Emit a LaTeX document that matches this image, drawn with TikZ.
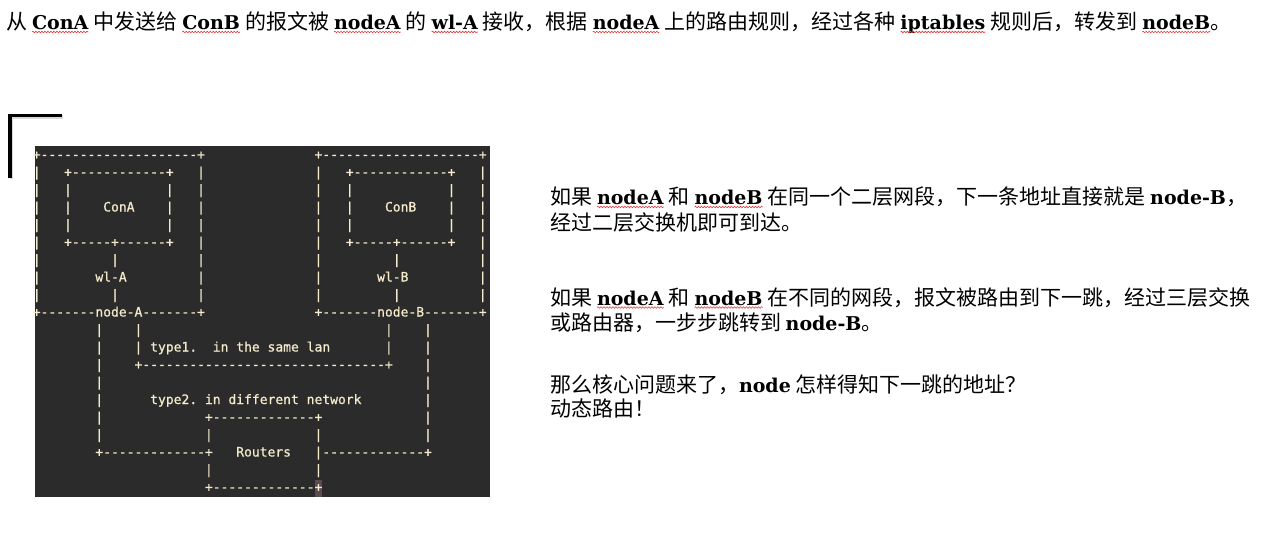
\documentclass[tikz,border=0pt]{standalone}
\usepackage{fontspec}
\setmainfont{Noto Sans CJK SC}
\newfontfamily\lat{DejaVu Serif}
\setmonofont{DejaVu Sans Mono}[FakeBold=0.7]
\usetikzlibrary{decorations.pathmorphing}
\definecolor{termbg}{HTML}{2B2B2B}
\definecolor{termfg}{HTML}{F3EBCB}
\definecolor{cursorbg}{HTML}{5C4B53}
\definecolor{spell}{HTML}{E8383A}
\ExplSyntaxOn
\NewDocumentCommand\dsh{m}{\prg_replicate:nn{#1}{-}}
\ExplSyntaxOff
\newcommand\B[1]{{\lat\bfseries\fontsize{19}{25}\selectfont #1}}
\newcommand\W[1]{\tikz[baseline=(wv.base)]{\node[inner sep=0pt,outer sep=0pt,anchor=base](wv){\B{#1}};\draw[spell,line width=0.6pt,decorate,decoration={snake,amplitude=0.8pt,segment length=3pt}]([yshift=-2.5pt]wv.base west)--([yshift=-2.5pt]wv.base east);}}
\tikzset{
 asc/.style={font=\ttfamily\fontsize{13}{13}\selectfont, text=termfg, inner sep=0pt, outer sep=0pt, anchor=base west},
 txt/.style={font=\fontsize{21}{25}\selectfont, inner sep=0pt, outer sep=0pt, anchor=base west, text=black},
}
\newcommand\A[3]{\node[asc] (a#2x#1) at ({32.8+7.826*#1},{159+17.5*#2}) {#3};}
\begin{document}
\begin{tikzpicture}[x=1pt,y=-1pt]
\useasboundingbox (0,0) rectangle (1283,554);
\fill[white] (0,0) rectangle (1283,554);
\node[txt] (head) at (6,29.5) {从 \W{ConA} 中发送给 \W{ConB} 的报文被 \W{nodeA} 的 \W{wl-A} 接收，根据 \W{nodeA} 上的路由规则，经过各种 \W{iptables} 规则后，转发到 \W{nodeB}。};
\draw[line width=3.6pt, line join=miter, black!25, opacity=0.6] (11.5,179) -- (11.5,117) -- (63,117);
\draw[line width=3.6pt, line join=miter, black] (10,178) -- (10,115.6) -- (62,115.6);
\node[fill=termbg, inner sep=0pt, outer sep=0pt, minimum width=455pt, minimum height=351pt, anchor=north west] (term) at (35,146) {};
\node[fill=cursorbg, inner sep=0pt, outer sep=0pt, minimum width=7.8pt, minimum height=17pt, anchor=north west] (cursor) at (314.5,480) {};
\A{0}{0}{+\dsh{20}+}\A{36}{0}{+\dsh{20}+}
\A{0}{1}{|}\A{4}{1}{+\dsh{12}+}\A{21}{1}{|}
\A{0}{2}{|}\A{4}{2}{|}\A{17}{2}{|}\A{21}{2}{|}
\A{0}{3}{|}\A{4}{3}{|}\A{9}{3}{ConA}\A{17}{3}{|}\A{21}{3}{|}
\A{0}{4}{|}\A{4}{4}{|}\A{17}{4}{|}\A{21}{4}{|}
\A{0}{5}{|}\A{4}{5}{+\dsh{5}+\dsh{6}+}\A{21}{5}{|}
\A{0}{6}{|}\A{10}{6}{|}\A{21}{6}{|}
\A{0}{7}{|}\A{8}{7}{wl-A}\A{21}{7}{|}
\A{0}{8}{|}\A{10}{8}{|}\A{21}{8}{|}
\A{0}{9}{+\dsh{7}node-A\dsh{7}+}
\A{36}{1}{|}\A{40}{1}{+\dsh{12}+}\A{57}{1}{|}
\A{36}{2}{|}\A{40}{2}{|}\A{53}{2}{|}\A{57}{2}{|}
\A{36}{3}{|}\A{40}{3}{|}\A{45}{3}{ConB}\A{53}{3}{|}\A{57}{3}{|}
\A{36}{4}{|}\A{40}{4}{|}\A{53}{4}{|}\A{57}{4}{|}
\A{36}{5}{|}\A{40}{5}{+\dsh{5}+\dsh{6}+}\A{57}{5}{|}
\A{36}{6}{|}\A{46}{6}{|}\A{57}{6}{|}
\A{36}{7}{|}\A{44}{7}{wl-B}\A{57}{7}{|}
\A{36}{8}{|}\A{46}{8}{|}\A{57}{8}{|}
\A{36}{9}{+\dsh{7}node-B\dsh{7}+}
\A{8}{10}{|}\A{13}{10}{|}\A{45}{10}{|}\A{50}{10}{|}
\A{8}{11}{|}\A{13}{11}{|}\A{15}{11}{type1.}\A{23}{11}{in the same lan}\A{45}{11}{|}\A{50}{11}{|}
\A{8}{12}{|}\A{13}{12}{+\dsh{31}+}\A{50}{12}{|}
\A{8}{13}{|}\A{50}{13}{|}
\A{8}{14}{|}\A{15}{14}{type2. in different network}\A{50}{14}{|}
\A{8}{15}{|}\A{22}{15}{+\dsh{13}+}\A{50}{15}{|}
\A{8}{16}{|}\A{22}{16}{|}\A{36}{16}{|}\A{50}{16}{|}
\A{8}{17}{+\dsh{13}+}\A{26}{17}{Routers}\A{36}{17}{|\dsh{13}+}
\A{22}{18}{|}\A{36}{18}{|}
\A{22}{19}{+\dsh{13}+}
\node[txt] (p1) at (550,204.5) {如果 \W{nodeA} 和 \W{nodeB} 在同一个二层网段，下一条地址直接就是 \B{node-B}，};
\node[txt] (p2) at (550,230.5) {经过二层交换机即可到达。};
\node[txt] (p3) at (550,305) {如果 \W{nodeA} 和 \W{nodeB} 在不同的网段，报文被路由到下一跳，经过三层交换};
\node[txt] (p4) at (550,330) {或路由器，一步步跳转到 \B{node-B}。};
\node[txt] (p5) at (550,392) {那么核心问题来了，\B{node} 怎样得知下一跳的地址？};
\node[txt] (p6) at (550,416) {动态路由！};
\end{tikzpicture}
\end{document}
